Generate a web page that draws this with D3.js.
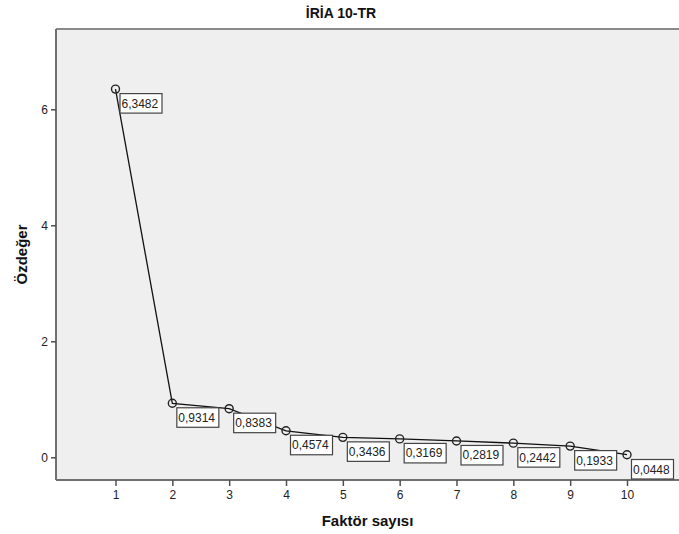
<!DOCTYPE html>
<html><head><meta charset="utf-8">
<script src="https://cdn.jsdelivr.net/npm/d3@7"></script>
<style>body{margin:0;background:#fff}svg{display:block;font-family:"Liberation Sans",Arial,sans-serif}</style>
</head><body><svg id="c" width="679" height="534"></svg>
<script>
const factors = [1,2,3,4,5,6,7,8,9,10];
const eigenvalues = [6.3482,0.9314,0.8383,0.4574,0.3436,0.3169,0.2819,0.2442,0.1933,0.0448];
const labels = ["6,3482","0,9314","0,8383","0,4574","0,3436","0,3169","0,2819","0,2442","0,1933","0,0448"];
const yTicks = [0,2,4,6];
const xTicks = [1,2,3,4,5,6,7,8,9,10];
const title = "İRİA 10-TR";
const xTitle = "Faktör sayısı";
const yTitle = "Özdeğer";

const svg = d3.select("#c");
const plot = {left:56, top:29, right:679, bottom:480};
const x = d3.scaleLinear().domain([1,10]).range([115.5,627]);
const y = d3.scaleLinear().domain([0,6]).range([457.3,109.3]);

svg.append("rect").attr("x",plot.left).attr("y",plot.top)
  .attr("width",plot.right-plot.left).attr("height",plot.bottom-plot.top).attr("fill","#efefef");
svg.append("line").attr("x1",plot.left).attr("x2",plot.right).attr("y1",plot.top).attr("y2",plot.top)
  .attr("stroke","#8a8a8a").attr("stroke-width",2);

const yAxis = svg.append("g").attr("transform",`translate(${plot.left},0)`)
  .call(d3.axisLeft(y).tickValues(yTicks).tickSize(5).tickSizeOuter(0).tickPadding(3).tickFormat(d3.format("d")));
yAxis.select(".domain").attr("d",`M0,${plot.top}V${plot.bottom}`);
const xAxis = svg.append("g").attr("transform",`translate(0,${plot.bottom})`)
  .call(d3.axisBottom(x).tickValues(xTicks).tickSize(6).tickSizeOuter(0).tickPadding(4).tickFormat(d3.format("d")));
xAxis.select(".domain").attr("d",`M${plot.left},0H${plot.right}`);
svg.selectAll(".domain").attr("stroke","#707070").attr("stroke-width",2);
svg.selectAll(".tick line").attr("stroke","#505050").attr("stroke-width",1.5);
svg.selectAll(".tick text").attr("font-size",12).attr("fill","#222").attr("font-family","Liberation Sans, Arial, sans-serif");

const pts = factors.map((f,i)=>({f, v:eigenvalues[i], l:labels[i]}));
svg.append("path").datum(pts)
  .attr("d", d3.line().x(d=>x(d.f)).y(d=>y(d.v)))
  .attr("fill","none").attr("stroke","#111").attr("stroke-width",1.3);
svg.selectAll("circle.pt").data(pts).join("circle").attr("class","pt")
  .attr("cx",d=>x(d.f)).attr("cy",d=>y(d.v)).attr("r",4)
  .attr("fill","none").attr("stroke","#222").attr("stroke-width",1.4);

const bw = 42, bh = 19.5;
const lg = svg.selectAll("g.lbl").data(pts).join("g").attr("class","lbl")
  .attr("transform",(d,i)=>{
    let bx = x(d.f)+4.5, by = y(d.v)+4.5;
    if (i === pts.length-1) by = plot.bottom - 1 - bh;
    return `translate(${bx},${by})`;
  });
lg.append("rect").attr("width",bw).attr("height",bh).attr("fill","#fff")
  .attr("stroke","#444").attr("stroke-width",1.2);
lg.append("text").attr("x",1.5).attr("y",14).attr("font-size",12).attr("fill","#222").text(d=>d.l);

svg.append("text").attr("x",341).attr("y",18).attr("text-anchor","middle")
  .attr("font-size",14).attr("font-weight","bold").attr("fill","#111").text(title);
svg.append("text").attr("x",(plot.left+plot.right)/2).attr("y",526).attr("text-anchor","middle")
  .attr("font-size",15).attr("font-weight","bold").attr("fill","#111").text(xTitle);
svg.append("text").attr("transform",`translate(27,${(plot.top+plot.bottom)/2}) rotate(-90)`)
  .attr("text-anchor","middle").attr("font-size",15).attr("font-weight","bold").attr("fill","#111").text(yTitle);
</script></body></html>
